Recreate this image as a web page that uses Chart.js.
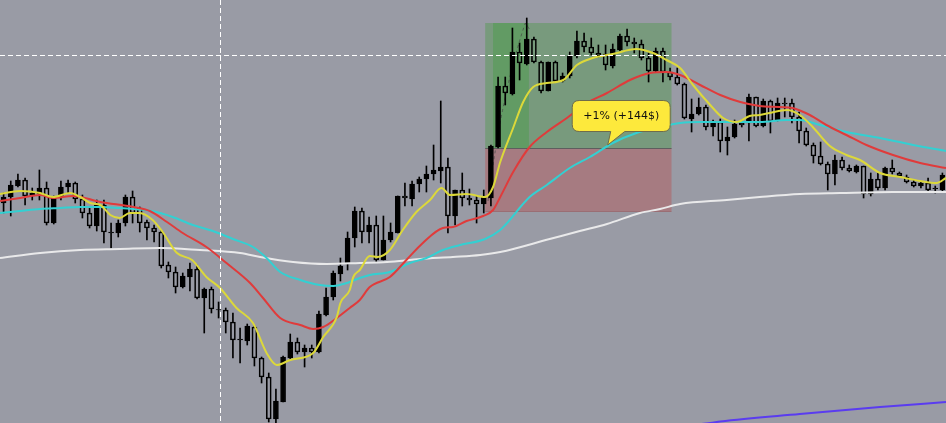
<!DOCTYPE html>
<html>
<head>
<meta charset="utf-8">
<script src="https://cdn.jsdelivr.net/npm/chart.js@4.4.1/dist/chart.umd.min.js"></script>
<style>
  html, body { margin: 0; padding: 0; background: #999ba5; overflow: hidden; }
  canvas { display: block; }
</style>
</head>
<body>
<canvas id="chart" width="946" height="423"></canvas>
<script>
// candles (price units)
const opens  = [220,226,237,243,227,229,235,200,226,236,240,224,210,197,218,190,190,200,226,215,201,195,191,158,151,136,146,154,125,134,
  113,113,101,83,82,96,65,46,4,21,65,81,71,75,71,108,126,149,159,185,212,191,198,163,183,190,227,224,239,244,
  249,252,256,207,233,225,223,219,225,276,337,329,371,359,384,361,332,361,342,347,367,382,376,370,369,357,373,387,381,379,
  365,352,372,351,346,339,304,309,316,296,301,282,286,300,300,326,297,322,303,320,320,306,292,278,267,259,249,263,255,251,
  257,229,244,235,255,250,246,241,237,240,234,233];
const highs  = [230,242,249,245,235,253,241,227,242,243,241,228,215,223,223,200,203,228,232,216,203,198,193,161,156,150,160,158,135,136,
  121,115,110,95,99,97,66,50,34,67,89,85,78,78,112,135,152,165,191,216,215,206,207,207,200,227,240,242,246,257,
  278,322,265,233,250,234,227,233,278,346,346,395,380,405,386,362,361,362,350,371,392,390,385,378,378,379,389,394,385,383,
  370,375,375,355,355,340,324,325,318,303,304,296,303,303,329,326,324,323,325,325,324,311,295,280,281,261,268,266,258,258,
  257,250,250,256,263,251,248,243,241,245,237,250];
const lows   = [210,207,236,218,223,223,198,199,223,230,220,205,195,192,180,175,186,197,200,191,183,181,155,145,130,135,132,124,90,110,
  105,90,65,60,78,57,40,1,0,21,63,69,56,65,70,107,123,142,153,176,180,180,161,163,181,190,217,217,231,231,
  243,240,190,198,217,218,200,210,217,275,318,328,343,358,360,330,332,341,341,345,365,371,368,366,353,355,372,377,370,363,
  341,351,341,343,338,304,291,308,293,287,271,268,285,296,282,296,296,290,302,306,300,280,277,260,258,233,238,253,251,250,
  225,227,233,233,249,246,240,236,235,231,230,232];
const closes = [226,238,243,227,230,235,200,226,236,240,224,210,197,218,191,191,200,226,210,200,195,191,157,151,136,147,154,125,134,114,
  113.5,101,83,84,97,65,46,4,22,66,81,71,75,71,109,126,150,157,185,212,191,198,163,183,191,227,225,239,244,249,
  253,256,207,233,225,223,219,226,277,337,330,371,360,384,361,332,361,342,347,367,382,376,370,367,358,374,387,381,379,365,
  352,372,351,346,339,305,309,316,296,301,282,286,299,298,326,297,322,302,320,319,306,292,278,267,259,249,263,255,252,257,
  229,244,235,255,251,247,241,237,240,233,235,248];
const labels = opens.map((_, i) => String(i));

// moving averages as [candle index, price]
const yellowMA = [[-0.5,229],[2.3,232],[5.1,230],[6.9,226],[9.3,230],[10.7,226],[12.1,220],[13.5,218],[14.9,208],[16.2,205],
  [17.6,210],[19,210],[20.8,203],[22.2,191],[24.2,170],[26.3,163],[28.3,146],[30.2,135],[32.5,115],[34.8,100],[36.7,70],
  [38.1,58],[40,63],[43.2,70],[44.6,86],[46.5,106],[47,120],[48.3,133],[48.8,146],[49.7,153],[51.1,167],[52.2,166],[53.9,173],
  [55.7,193],[57.6,211],[59.5,223],[61.1,235],[62.3,228],[64.6,229],[67.2,226],[68.3,236],[69.3,261],[71.1,295],[72.5,321],
  [73.9,336],[75.8,340],[78.1,343],[80,358],[82.2,365],[85,369],[88.3,374],[90.6,370],[92.5,363],[94.4,355],[96.2,338],
  [98.6,318],[100.4,305],[102.3,301],[104.1,307],[105.5,308],[106.9,310],[109.3,313],[111.1,308],[112.9,296],[115.3,277],
  [117.6,268],[119.5,263],[122.3,250],[125.1,246],[127.9,242],[130.2,240],[131.5,245]];
const redMA = [[-0.5,222],[2.3,225],[5.1,228],[6.9,225],[9.7,227],[13.5,221],[18.1,216],[20.4,212],[22.8,201],[25,190],
  [28.3,176],[31.1,160],[34.4,140],[36.2,125],[38.6,105],[41.4,98],[43.2,94],[44.6,96],[46.5,105],[48.3,115],[49.7,123],
  [51.1,136],[53.9,146],[56.2,163],[58.5,180],[61.3,195],[62.7,196],[64.6,202],[66.9,207],[68.3,213],[69.3,226],[71.1,251],
  [73.4,276],[75.8,291],[78.6,305],[81.4,320],[84.2,330],[87.4,343],[90.2,350],[92.5,351],[94.4,348],[97.2,338],[100,328],
  [102.8,321],[105.5,317],[108.3,316],[110.1,315],[112.5,308],[114.8,298],[117.6,288],[120.4,278],[124.1,268],[127.9,260],[131.5,255]];
const cyanMA = [[-0.5,210],[2.3,212],[5.1,214],[7.9,215],[10.7,216],[13.5,216],[16.2,215],[18.1,214],[20.8,212],[23.6,206],
  [26.4,198],[29.2,192],[32,184],[34.8,176],[36.7,165],[38.6,151],[41.4,143],[44.1,138],[46,137],[47.9,140],[49.7,145],
  [51.1,148],[53.9,151],[56.7,160],[59,165],[61.3,173],[63.7,178],[67.2,184],[69.3,193],[70,198],[73.4,226],[75.8,238],
  [79,255],[81.8,266],[85,280],[88.3,290],[91.1,295],[94.4,300],[97.2,301],[100.9,301],[105.5,301],[109.3,303],[111.1,303],
  [113.9,298],[117.6,291],[122.3,285],[126.9,278],[131.5,272]];
const whiteMA = [[-0.5,165],[5.1,170],[10.7,173],[16.2,174],[21.8,175],[27.4,173],[33,170],[35.8,166],[40.4,161],[45.1,159],
  [49.7,160],[53.5,161],[58.1,164],[62.7,166],[66.5,168],[69.3,171],[76.2,184],[80.4,192],[84.2,199],[88.8,210],[91.6,214],
  [94.4,219],[100.9,223],[105.5,226],[111.1,229],[116.7,230],[124.1,231],[131.5,231]];
const purpleMA = [[90,-6],[98.6,0],[100,1.5],[111.1,9],[122.3,16],[131.5,21]];

// trade box
const tradeStart = 67.2, tradeEnd = 93.2, entryPrice = 275, targetPrice = 400, stopPrice = 212;
const holdStart = 68.3, holdEnd = 73.3;
const tradeLabel = '+1% (+144$)';
const crossIndex = 30.2, crossPrice = 368;

const pts = a => a.map(p => ({ x: p[0], y: p[1] }));
const isUp = closes.map((c, i) => c >= opens[i]);

function lineDs(data, color, order) {
  return { type: 'line', xAxisID: 'xl', data: pts(data), borderColor: color, borderWidth: 2,
    pointRadius: 0, tension: 0.35, cubicInterpolationMode: 'monotone', order: order };
}

const tradePlugin = {
  id: 'trade',
  beforeDatasetsDraw(chart) {
    const ctx = chart.ctx, xs = chart.scales.xl, ys = chart.scales.y;
    const x0 = xs.getPixelForValue(tradeStart), x1 = xs.getPixelForValue(tradeEnd);
    const yT = ys.getPixelForValue(targetPrice), yE = ys.getPixelForValue(entryPrice), yS = ys.getPixelForValue(stopPrice);
    ctx.save();
    ctx.fillStyle = '#789a7d';
    ctx.fillRect(x0, yT, x1 - x0, yE - yT);
    ctx.fillStyle = '#629b64';
    const h0 = xs.getPixelForValue(holdStart), h1 = xs.getPixelForValue(holdEnd);
    ctx.fillRect(h0, yT, h1 - h0, yE - yT);
    ctx.fillStyle = '#a67b81';
    ctx.fillRect(x0, yE, x1 - x0, yS - yE);
    ctx.fillStyle = '#5e5e5e';
    ctx.fillRect(x0, Math.round(yE), x1 - x0, 1);
    ctx.fillStyle = '#9a6e74';
    ctx.fillRect(x0, Math.round(yS), x1 - x0, 1);
    // path arrow
    ctx.strokeStyle = 'rgba(70,70,70,0.7)';
    ctx.lineWidth = 1;
    ctx.setLineDash([3, 3]);
    const ax = xs.getPixelForValue(67.6), ay = ys.getPixelForValue(222);
    const bx = xs.getPixelForValue(72.8), by = ys.getPixelForValue(400);
    ctx.beginPath();
    ctx.moveTo(ax, ay);
    ctx.quadraticCurveTo(ax + 14, ay - 110, bx, by);
    ctx.stroke();
    ctx.setLineDash([]);
    ctx.beginPath();
    ctx.moveTo(bx, by);
    ctx.lineTo(bx + 4, by + 6);
    ctx.stroke();
    ctx.restore();
  },
  afterDatasetsDraw(chart) {
    const ctx = chart.ctx, xs = chart.scales.xl, ys = chart.scales.y;
    ctx.save();
    // crosshair
    ctx.strokeStyle = '#ffffff';
    ctx.lineWidth = 1;
    ctx.setLineDash([5, 3]);
    const cx = Math.round(xs.getPixelForValue(crossIndex)) + 0.5;
    const cy = Math.round(ys.getPixelForValue(crossPrice)) + 0.5;
    ctx.beginPath();
    ctx.moveTo(cx, 0); ctx.lineTo(cx, chart.height);
    ctx.moveTo(0, cy); ctx.lineTo(chart.width, cy);
    ctx.stroke();
    ctx.setLineDash([]);
    // callout
    const tx = xs.getPixelForValue(84.3), ty = ys.getPixelForValue(278);
    const bl = tx - 35.5, bt = ty - 44.5, bw = 98, bh = 31, r = 7;
    ctx.beginPath();
    ctx.moveTo(bl + r, bt);
    ctx.lineTo(bl + bw - r, bt);
    ctx.quadraticCurveTo(bl + bw, bt, bl + bw, bt + r);
    ctx.lineTo(bl + bw, bt + bh - r);
    ctx.quadraticCurveTo(bl + bw, bt + bh, bl + bw - r, bt + bh);
    ctx.lineTo(tx + 17, bt + bh);
    ctx.lineTo(tx, ty);
    ctx.lineTo(tx + 3, bt + bh);
    ctx.lineTo(bl + r, bt + bh);
    ctx.quadraticCurveTo(bl, bt + bh, bl, bt + bh - r);
    ctx.lineTo(bl, bt + r);
    ctx.quadraticCurveTo(bl, bt, bl + r, bt);
    ctx.closePath();
    ctx.fillStyle = '#fde93c';
    ctx.fill();
    ctx.strokeStyle = '#6f6c4a';
    ctx.stroke();
    ctx.fillStyle = '#111111';
    ctx.font = '11px "DejaVu Sans"';
    ctx.textAlign = 'center';
    ctx.textBaseline = 'middle';
    ctx.fillText(tradeLabel, bl + bw / 2, bt + bh / 2 + 0.5);
    ctx.restore();
  }
};

new Chart(document.getElementById('chart'), {
  type: 'bar',
  data: {
    labels: labels,
    datasets: [
      lineDs(yellowMA, '#dcd83a', 0),
      lineDs(redMA, '#e03b3b', 1),
      lineDs(cyanMA, '#33d0d2', 2),
      lineDs(whiteMA, '#e9e9ea', 3),
      lineDs(purpleMA, '#5a3cf0', 3),
      {
        data: opens.map((o, i) => [o, closes[i]]),
        backgroundColor: isUp.map(u => u ? '#000000' : 'rgba(0,0,0,0)'),
        borderColor: '#000000', borderWidth: 1, borderSkipped: false,
        barThickness: 5, grouped: false, order: 5
      },
      {
        data: opens.map((o, i) => [Math.max(o, closes[i]), highs[i]]),
        backgroundColor: '#000000', barThickness: 1, grouped: false, order: 6
      },
      {
        data: opens.map((o, i) => [lows[i], Math.min(o, closes[i])]),
        backgroundColor: '#000000', barThickness: 1, grouped: false, order: 6
      }
    ]
  },
  options: {
    responsive: false,
    animation: false,
    devicePixelRatio: 1,
    layout: { padding: 0 },
    plugins: { legend: { display: false }, tooltip: { enabled: false } },
    scales: {
      x: { display: false },
      xl: { type: 'linear', display: false, min: -0.5, max: labels.length - 0.5, offset: false },
      y: { display: false, min: 0, max: 423 }
    }
  },
  plugins: [tradePlugin]
});
</script>
</body>
</html>
